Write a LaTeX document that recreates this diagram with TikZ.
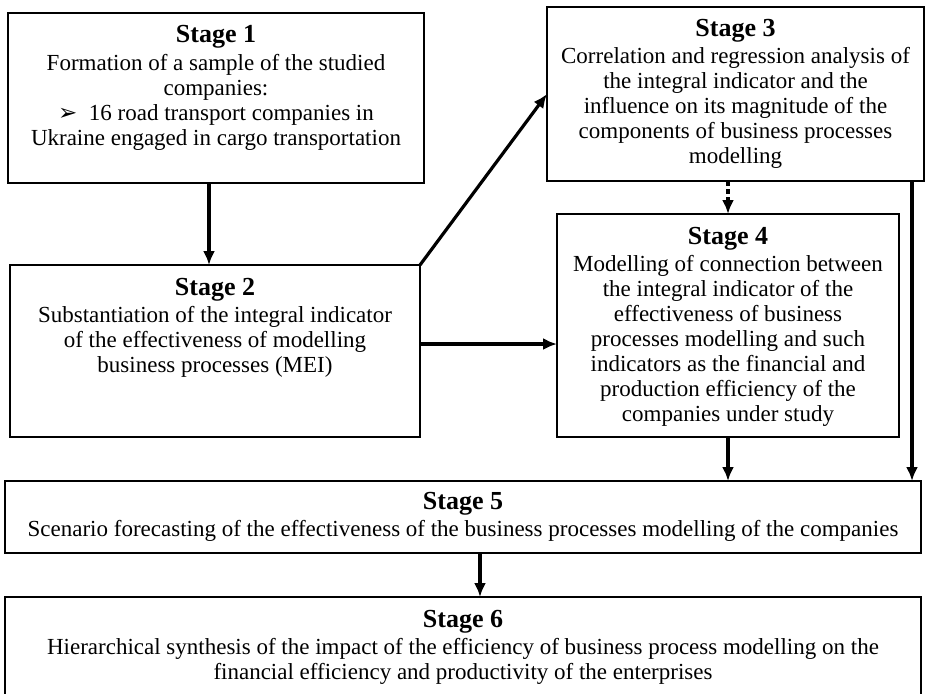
\documentclass[tikz,border=0pt]{standalone}
\usepackage{fontspec}
\setmainfont{Liberation Serif}
\newfontfamily\dingfont{DejaVu Sans}
\usetikzlibrary{positioning,arrows.meta}
\tikzset{
    stagebox/.style={
        draw,
        line width=1pt,
        inner sep=0pt,
        outer sep=0pt
    },
    stagetext/.style={
        align=center,
        inner sep=0pt,
        font=\fontsize{11.5}{12.5}\selectfont
    },
    flow/.style={
        -{Latex[length=7pt,width=6pt]},
        line width=1.6pt
    }
}
\newcommand{\stagehead}[1]{{\fontsize{13}{14}\selectfont\bfseries Stage #1}}

\begin{document}
\begin{tikzpicture}[x=0.5pt,y=-0.5pt]
  \useasboundingbox (0,0) rectangle (925,693);

  % boxes
  \node[stagebox, minimum width=208pt, minimum height=85pt] (s1) at (216,98) {};
  \node[stagebox, minimum width=205pt, minimum height=86pt] (s2) at (215,351) {};
  \node[stagebox, minimum width=188.5pt, minimum height=87pt] (s3) at (735.5,94) {};
  \node[stagebox, minimum width=171pt, minimum height=111.5pt] (s4) at (728,325.5) {};
  \node[stagebox, minimum width=458pt, minimum height=36pt] (s5) at (463,517) {};
  \node[stagebox, minimum width=458pt, minimum height=56.5pt] (s6) at (463,653.5) {};

  % texts
  \node[stagetext, below=6pt of s1.north] (s1t) {\stagehead{1}\\[1.5pt]
    Formation of a sample of the studied\\
    companies:\\
    {\dingfont ➢}\enspace 16 road transport companies in\\
    Ukraine engaged in cargo transportation};
  \node[stagetext, below=6.5pt of s2.north] (s2t) {\stagehead{2}\\[1pt]
    Substantiation of the integral indicator\\
    of the effectiveness of modelling\\
    business processes (MEI)};
  \node[stagetext, below=6pt of s3.north] (s3t) {\stagehead{3}\\[1pt]
    Correlation and regression analysis of\\
    the integral indicator and the\\
    influence on its magnitude of the\\
    components of business processes\\
    modelling};
  \node[stagetext, below=6.5pt of s4.north] (s4t) {\stagehead{4}\\[1pt]
    Modelling of connection between\\
    the integral indicator of the\\
    effectiveness of business\\
    processes modelling and such\\
    indicators as the financial and\\
    production efficiency of the\\
    companies under study};
  \node[stagetext, below=5.5pt of s5.north] (s5t) {\stagehead{5}\\[1pt]
    Scenario forecasting of the effectiveness of the business processes modelling of the companies};
  \node[stagetext, below=6.5pt of s6.north] (s6t) {\stagehead{6}\\[1pt]
    Hierarchical synthesis of the impact of the efficiency of business process modelling on the\\
    financial efficiency and productivity of the enterprises};

  % connectors
  \draw[flow] ([xshift=-3.5pt]s1.south) -- ([xshift=-3.5pt]s1.south |- s2.north);
  \draw[flow] (s2.north east) -- (s3.west);
  \draw[flow, dash pattern=on 2.5pt off 1.5pt] (s4.north |- s3.south) -- (s4.north);
  \draw[flow] ([yshift=3.5pt]s2.east) -- ([yshift=3.5pt]s2.east -| s4.west);
  \draw[flow] (s4.south) -- (s4.south |- s5.north);
  \draw[flow] ([xshift=-6pt]s3.south east) -- ([xshift=-6pt]s3.south east |- s5.north);
  \draw[flow] ([xshift=8.5pt]s5.south) -- ([xshift=8.5pt]s5.south |- s6.north);
\end{tikzpicture}
\end{document}
